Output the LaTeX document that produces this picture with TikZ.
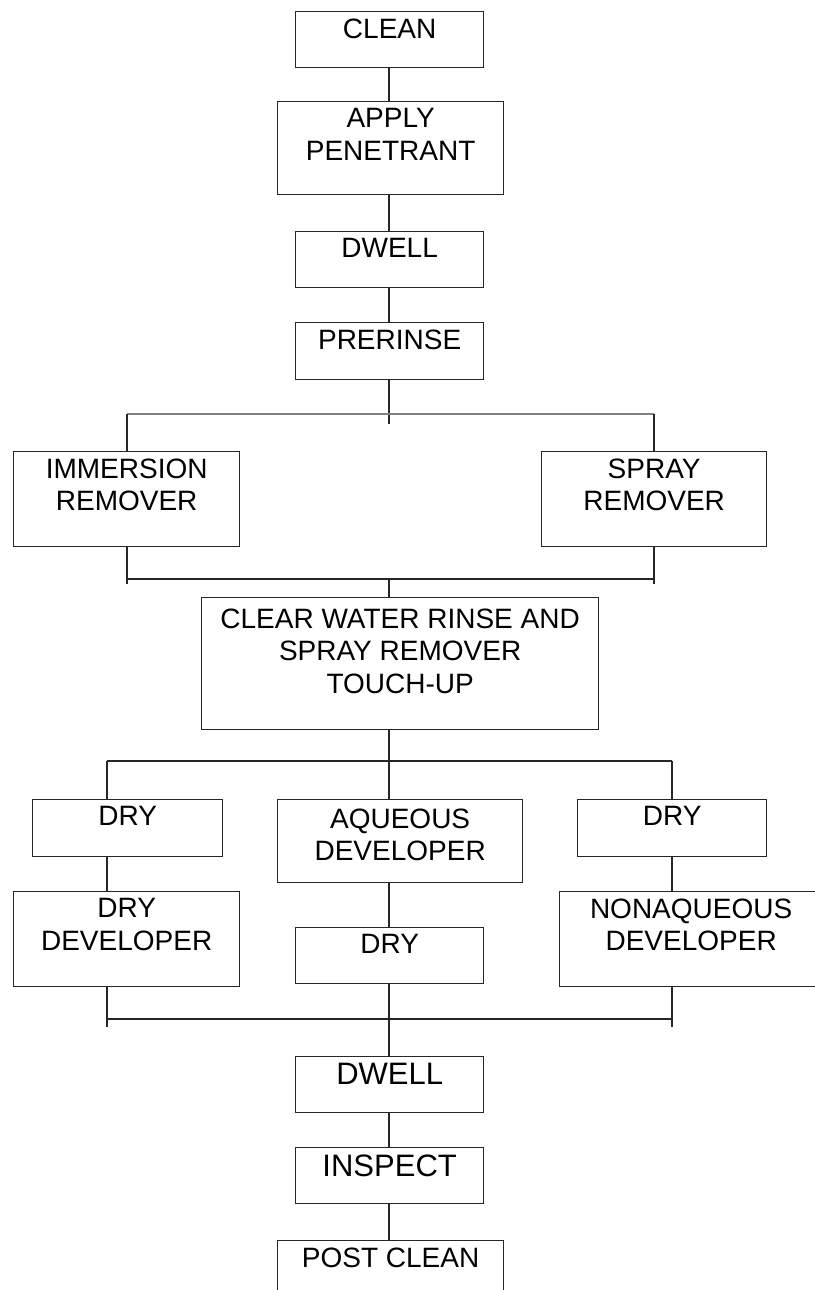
\documentclass[tikz,border=0pt]{standalone}
\usepackage{fontspec}
\setmainfont{Liberation Sans}
\tikzset{
  box/.style={draw=black!85, line width=1.3pt, inner sep=0pt, anchor=north west,
    font=\fontsize{28}{32.5}\selectfont},
  bigtext/.style={font=\fontsize{31}{36}\selectfont},
  conn/.style={draw=black!85, line width=1.3pt},
  gline/.style={draw=black!50, line width=2.2pt},
}
\newcommand\mybox[7][]{\node[box,#1] (#2) at (#3,#4)
  {\begin{minipage}[t][#6pt][t]{#5pt}\centering\vspace*{7pt}#7\end{minipage}};}
\begin{document}
\begin{tikzpicture}[x=1pt,y=-1pt]
\useasboundingbox (0,0) rectangle (814,1290);
% columns and junctions
\coordinate (colL) at (107,0);
\coordinate (colM) at (389,0);
\coordinate (colR) at (672,0);
\coordinate (a1) at (127,414);
\coordinate (a2) at (654,414);
\coordinate (b1) at (127,579);
\coordinate (b2) at (654,579);
\coordinate (c1) at (107,761);
\coordinate (c2) at (672,761);
\coordinate (d1) at (107,1019);
\coordinate (d2) at (672,1019);
% boxes
\mybox{clean}{295}{11}{188}{56}{CLEAN}
\mybox{apply}{277}{101}{226}{93}{APPLY\\PENETRANT}
\mybox{dwellA}{295}{231}{188}{56}{DWELL}
\mybox{prerinse}{295}{322}{188}{57}{PRERINSE}
\mybox{immersion}{13}{451}{226}{95}{IMMERSION\\REMOVER}
\mybox{spray}{541}{451}{225}{95}{SPRAY\\REMOVER}
\mybox{clear}{201}{597}{397}{132}{\vspace*{4pt}CLEAR WATER RINSE AND\\SPRAY REMOVER\\TOUCH-UP}
\mybox{dryL}{32}{799}{190}{57}{DRY}
\mybox{aqueous}{277}{799}{245}{83}{\vspace*{2pt}AQUEOUS\\DEVELOPER}
\mybox{dryR}{577}{799}{189}{57}{DRY}
\mybox{drydev}{13}{891}{226}{95}{DRY\\DEVELOPER}
\mybox{dryM}{295}{927}{188}{56}{DRY}
\mybox{nonaq}{559}{891}{263}{95}{NONAQUEOUS\\DEVELOPER}
\mybox[bigtext]{dwellB}{295}{1056}{188}{56}{DWELL}
\mybox[bigtext]{inspect}{295}{1147}{188}{56}{INSPECT}
\mybox{post}{277}{1240}{226}{80}{POST CLEAN}
% connectors: top column
\draw[conn] (clean.south -| colM) -- (apply.north -| colM);
\draw[conn] (apply.south -| colM) -- (dwellA.north -| colM);
\draw[conn] (dwellA.south -| colM) -- (prerinse.north -| colM);
\draw[conn] (prerinse.south -| colM) -- ++(0,44);
% remover branch
\draw[gline] (a1) -- (a2);
\draw[conn] (a1) -- (a1 |- immersion.north);
\draw[conn] (a2) -- (a2 |- spray.north);
\draw[conn] (immersion.south -| a1) -- ++(0,37);
\draw[conn] (spray.south -| a2) -- ++(0,37);
\draw[conn] (b1) -- (b2);
\draw[conn] (b1 -| colM) -- (clear.north -| colM);
% developer branch
\draw[conn] (clear.south -| colM) -- (c1 -| colM);
\draw[conn] (c1) -- (c2);
\draw[conn] (c1) -- (dryL.north -| c1);
\draw[conn] (dryL.south -| c1) -- (drydev.north -| c1);
\draw[conn] (drydev.south -| c1) -- ++(0,40);
\draw[conn] (c2) -- (dryR.north -| c2);
\draw[conn] (dryR.south -| c2) -- (nonaq.north -| c2);
\draw[conn] (nonaq.south -| c2) -- ++(0,40);
\draw[conn] (c1 -| colM) -- (aqueous.north -| colM);
\draw[conn] (aqueous.south -| colM) -- (dryM.north -| colM);
\draw[conn] (dryM.south -| colM) -- (dwellB.north -| colM);
\draw[conn] (d1) -- (d2);
% bottom column
\draw[conn] (dwellB.south -| colM) -- (inspect.north -| colM);
\draw[conn] (inspect.south -| colM) -- (post.north -| colM);
\end{tikzpicture}
\end{document}
